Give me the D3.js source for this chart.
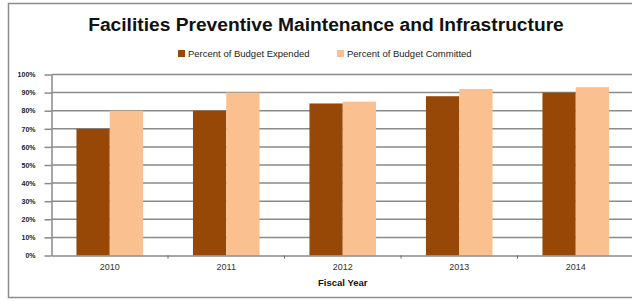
<!DOCTYPE html>
<html>
<head>
<meta charset="utf-8">
<script src="https://cdn.jsdelivr.net/npm/d3@7"></script>
<style>
  body { margin: 0; background: #fff; }
  svg { display: block; font-family: "Liberation Sans", Arial, sans-serif; }
</style>
</head>
<body>
<svg id="chart"></svg>
<script>
const years = ["2010", "2011", "2012", "2013", "2014"];
const expended = [70, 80, 84, 88, 90];
const committed = [80, 90, 85, 92, 93];
const seriesNames = ["Percent of Budget Expended", "Percent of Budget Committed"];
const yTicks = [0, 10, 20, 30, 40, 50, 60, 70, 80, 90, 100];

const width = 632;
const height = 301;
const colors = ["#974706", "#fac090"];

const svg = d3.select("#chart")
  .attr("width", width)
  .attr("height", height);

// chart area frame
svg.append("rect")
  .attr("x", 8.5).attr("y", 3.5)
  .attr("width", 640).attr("height", 294)
  .attr("fill", "none")
  .attr("stroke", "#8c8c8c")
  .attr("stroke-width", 1.5);

const plot = { left: 51.5, right: 634, top: 74.5, bottom: 255.5 };

const x = d3.scaleBand()
  .domain(years)
  .range([plot.left, plot.right]);

const x1 = d3.scaleBand()
  .domain([0, 1])
  .range([0, x.bandwidth()])
  .paddingOuter(0.75)
  .paddingInner(0);

const y = d3.scaleLinear()
  .domain([0, 100])
  .range([plot.bottom, plot.top]);

// gridlines
svg.append("g")
  .selectAll("line")
  .data(yTicks.filter(d => d > 0))
  .enter()
  .append("line")
  .attr("x1", plot.left)
  .attr("x2", plot.right)
  .attr("y1", d => y(d))
  .attr("y2", d => y(d))
  .attr("stroke", "#8a8a8a")
  .attr("stroke-width", 1.5);

// bars
const rows = years.map((yr, i) => ({ year: yr, values: [expended[i], committed[i]] }));

const groups = svg.append("g")
  .selectAll("g")
  .data(rows)
  .enter()
  .append("g")
  .attr("transform", d => `translate(${x(d.year)},0)`);

groups.selectAll("rect")
  .data(d => d.values.map((v, k) => ({ k, v })))
  .enter()
  .append("rect")
  .attr("x", d => x1(d.k))
  .attr("width", x1.bandwidth())
  .attr("y", d => y(d.v))
  .attr("height", d => y(0) - y(d.v))
  .attr("fill", d => colors[d.k]);

// y axis
const yAxis = svg.append("g")
  .attr("transform", `translate(${plot.left},0)`)
  .call(d3.axisLeft(y).tickValues(yTicks).tickFormat(d => d + "%").tickSize(7).tickSizeOuter(0));
yAxis.select(".domain").attr("stroke", "#8a8a8a").attr("stroke-width", 1.5);
yAxis.selectAll(".tick line").attr("stroke", "#8a8a8a").attr("stroke-width", 1.5);
yAxis.selectAll("text")
  .attr("x", -16)
  .attr("fill", "#222")
  .style("font-size", "7px")
  .style("font-weight", "bold");

// x axis
const xAxis = svg.append("g")
  .attr("transform", `translate(0,${plot.bottom})`)
  .call(d3.axisBottom(x).tickSize(0).tickSizeOuter(0));
xAxis.select(".domain").attr("stroke", "#8a8a8a").attr("stroke-width", 1.5);
xAxis.selectAll("text")
  .attr("y", 8)
  .attr("fill", "#333")
  .style("font-size", "9px");

// category separator ticks
svg.append("g")
  .selectAll("line")
  .data(years.slice(1))
  .enter()
  .append("line")
  .attr("x1", d => x(d))
  .attr("x2", d => x(d))
  .attr("y1", plot.bottom)
  .attr("y2", plot.bottom + 3)
  .attr("stroke", "#666")
  .attr("stroke-width", 1);

svg.append("text")
  .attr("x", (plot.left + plot.right) / 2)
  .attr("y", 286)
  .attr("text-anchor", "middle")
  .style("font-size", "9.5px")
  .style("font-weight", "bold")
  .attr("fill", "#111")
  .text("Fiscal Year");

// title
svg.append("text")
  .attr("x", 326)
  .attr("y", 31)
  .attr("text-anchor", "middle")
  .style("font-size", "19.2px")
  .style("font-weight", "bold")
  .attr("fill", "#111")
  .text("Facilities Preventive Maintenance and Infrastructure");

// legend
const legendX = [178, 337];
const legend = svg.append("g")
  .selectAll("g")
  .data(seriesNames)
  .enter()
  .append("g")
  .attr("transform", (d, i) => `translate(${legendX[i]},50)`);

legend.append("rect")
  .attr("width", 7).attr("height", 7)
  .attr("fill", (d, i) => colors[i]);

legend.append("text")
  .attr("x", 10)
  .attr("y", 6.8)
  .style("font-size", "9.5px")
  .attr("fill", "#222")
  .text(d => d);
</script>
</body>
</html>
